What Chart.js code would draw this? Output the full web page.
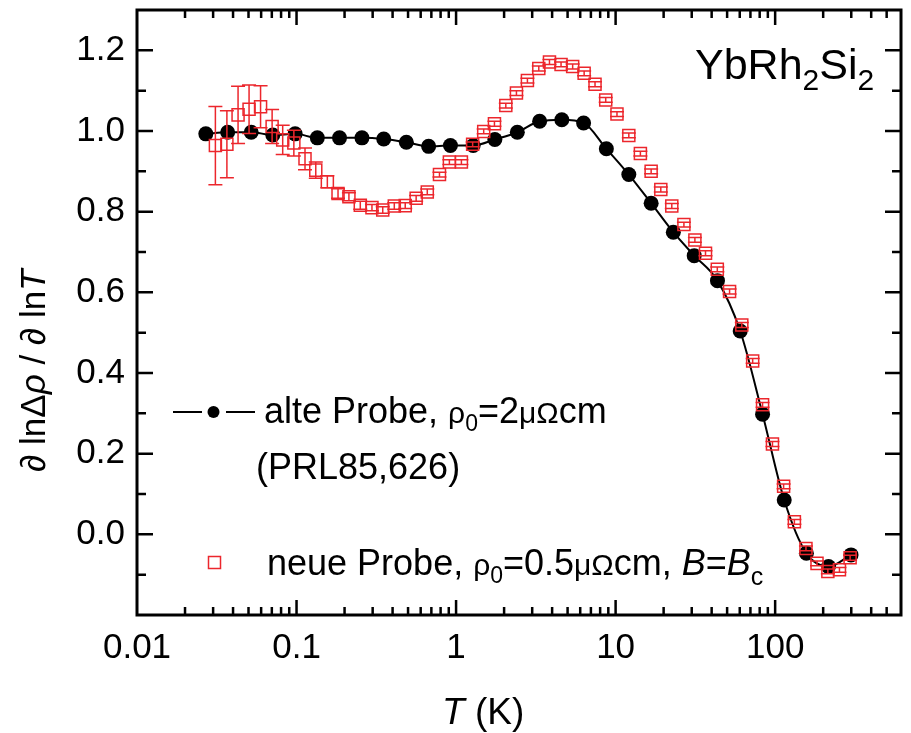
<!DOCTYPE html>
<html>
<head>
<meta charset="utf-8">
<script src="https://cdn.jsdelivr.net/npm/chart.js@4"></script>
<style>
  html, body { margin: 0; padding: 0; background: #fff; }
  #wrap { width: 911px; height: 733px; }
</style>
</head>
<body>
<div id="wrap"><canvas id="rho-chart" width="911" height="733"></canvas></div>
<script>
// alte Probe (PRL85,626)
const oldT = [0.027, 0.037, 0.052, 0.071, 0.098, 0.135, 0.186, 0.257, 0.352, 0.488,
    0.673, 0.922, 1.28, 1.75, 2.42, 3.34, 4.6, 6.3, 8.75, 12.1,
    16.7, 23.0, 31.1, 43.5, 60.4, 83.4, 114, 157, 216, 299];
const oldVal = [0.993, 0.997, 0.997, 0.99, 0.993, 0.983, 0.983, 0.983, 0.98, 0.972,
    0.962, 0.964, 0.964, 0.979, 0.997, 1.024, 1.028, 1.02, 0.956, 0.892,
    0.821, 0.749, 0.691, 0.629, 0.504, 0.298, 0.085, -0.047, -0.08, -0.051];

// neue Probe, B = Bc
const newT = [0.031, 0.0366, 0.043, 0.0504, 0.0595, 0.0703, 0.0819, 0.0962, 0.113, 0.132,
    0.156, 0.182, 0.213, 0.251, 0.297, 0.347, 0.41, 0.48, 0.562, 0.66,
    0.787, 0.908, 1.08, 1.27, 1.49, 1.74, 2.05, 2.39, 2.8, 3.3,
    3.85, 4.55, 5.38, 6.35, 7.43, 8.67, 10.2, 12.1, 14.3, 16.7,
    19.2, 22.5, 26.8, 31.4, 36.6, 43.4, 51.8, 61.8, 72.3, 83.4,
    96.2, 113, 132, 156, 183, 214, 253, 295];
const newVal = [0.964, 0.967, 1.04, 1.054, 1.06, 1.011, 0.978, 0.97, 0.931, 0.903,
    0.874, 0.845, 0.837, 0.816, 0.81, 0.804, 0.814, 0.815, 0.833, 0.849,
    0.892, 0.923, 0.923, 0.967, 0.999, 1.018, 1.063, 1.094, 1.125, 1.155,
    1.171, 1.165, 1.16, 1.143, 1.116, 1.077, 1.042, 0.989, 0.944, 0.9,
    0.855, 0.814, 0.768, 0.73, 0.697, 0.657, 0.602, 0.519, 0.43, 0.321,
    0.224, 0.119, 0.031, -0.035, -0.072, -0.092, -0.088, -0.058];
const newErr = [0.097, 0.083, 0.071, 0.06, 0.052, 0.042, 0.036, 0.032, 0.027, 0.02,
    0.015, 0.012, 0.01, 0.01, 0.008, 0.008, 0.008, 0.007, 0.007, 0.007,
    0.006, 0.006, 0.006, 0.006, 0.006, 0.006, 0.006, 0.006, 0.006, 0.006,
    0.006, 0.006, 0.006, 0.006, 0.006, 0.006, 0.006, 0.006, 0.006, 0.006,
    0.006, 0.006, 0.006, 0.006, 0.006, 0.006, 0.006, 0.006, 0.006, 0.006,
    0.006, 0.006, 0.006, 0.006, 0.006, 0.006, 0.006, 0.006];

const xTickValues = [0.01, 0.1, 1, 10, 100];
const xTickLabels = ["0.01", "0.1", "1", "10", "100"];
const yTickValues = [0, 0.2, 0.4, 0.6, 0.8, 1.0, 1.2];

const RED = "rgb(236,38,44)";
const FONT = "'Liberation Sans', Arial, sans-serif";

Chart.defaults.font.family = FONT;
Chart.defaults.color = "#000";

// draws a row of text pieces, each with its own font and vertical shift
function drawRuns(ctx, x, y, runs, sx) {
    ctx.save();
    ctx.translate(x, y);
    ctx.scale(sx || 1, 1);
    let cx = 0;
    runs.forEach((r) => {
        ctx.font = r.font;
        ctx.fillText(r.t, cx, r.dy || 0);
        cx += ctx.measureText(r.t).width;
    });
    ctx.restore();
}

const f = (size, style) => (style || "") + " " + size + "px " + FONT;

// no extra room for the end labels, the frame must sit at fixed spots
function noPad(s) {
    s.paddingTop = 0;
    s.paddingBottom = 0;
    s.paddingLeft = 0;
    s.paddingRight = 0;
}

// inward ticks on all four sides plus the frame
const frameTicks = {
    id: "frameTicks",
    afterDraw(chart) {
        const { ctx, chartArea: a, scales } = chart;
        const x = scales.x, y = scales.y;
        ctx.save();
        ctx.strokeStyle = "#000";
        ctx.lineWidth = 2.5;
        ctx.beginPath();
        for (let e = -2; e <= 2; e++) {
            for (let m = 1; m <= 9; m++) {
                const px = x.getPixelForValue(m * Math.pow(10, e));
                if (px < a.left + 2 || px > a.right - 2) continue;
                const len = m === 1 ? 15 : 8;
                ctx.moveTo(px, a.bottom); ctx.lineTo(px, a.bottom - len);
                ctx.moveTo(px, a.top); ctx.lineTo(px, a.top + len);
            }
        }
        for (let i = -1; i <= 12; i++) {
            const py = y.getPixelForValue(i / 10);
            const len = i % 2 === 0 ? 16 : 9;
            ctx.moveTo(a.left, py); ctx.lineTo(a.left + len, py);
            ctx.moveTo(a.right, py); ctx.lineTo(a.right - len, py);
        }
        ctx.stroke();
        ctx.lineWidth = 3;
        ctx.strokeRect(a.left, a.top, a.right - a.left, a.bottom - a.top);
        ctx.restore();
    },
};

// vertical error bars of the new sample
const errorBars = {
    id: "errorBars",
    afterDatasetsDraw(chart) {
        const { ctx, scales } = chart;
        ctx.save();
        ctx.strokeStyle = RED;
        ctx.lineWidth = 1.5;
        ctx.beginPath();
        newT.forEach((t, i) => {
            const px = scales.x.getPixelForValue(t);
            const top = scales.y.getPixelForValue(newVal[i] + newErr[i]);
            const bot = scales.y.getPixelForValue(newVal[i] - newErr[i]);
            ctx.moveTo(px, top); ctx.lineTo(px, bot);
            ctx.moveTo(px - 7, top); ctx.lineTo(px + 7, top);
            ctx.moveTo(px - 7, bot); ctx.lineTo(px + 7, bot);
        });
        ctx.stroke();
        ctx.restore();
    },
};

// legend, sample name and axis titles
const labels = {
    id: "labels",
    afterDraw(chart) {
        const ctx = chart.ctx;
        ctx.save();
        ctx.fillStyle = "#000";
        ctx.textBaseline = "alphabetic";

        drawRuns(ctx, 695, 79, [
            { t: "YbRh", font: f(43) },
            { t: "2", font: f(30), dy: 11 },
            { t: "Si", font: f(43) },
            { t: "2", font: f(30), dy: 11 },
        ]);

        // legend row 1
        ctx.strokeStyle = "#000";
        ctx.lineWidth = 2;
        ctx.beginPath();
        ctx.moveTo(173, 412); ctx.lineTo(202, 412);
        ctx.moveTo(226, 412); ctx.lineTo(255, 412);
        ctx.stroke();
        ctx.beginPath();
        ctx.arc(213.5, 412, 6, 0, Math.PI * 2);
        ctx.fill();
        drawRuns(ctx, 264, 423, [
            { t: "alte Probe, ", font: f(36) },
            { t: "ρ", font: f(30) },
            { t: "0", font: f(23), dy: 8 },
            { t: "=2", font: f(36) },
            { t: "μΩ", font: f(30) },
            { t: "cm", font: f(36) },
        ]);
        drawRuns(ctx, 256, 479, [{ t: "(PRL85,626)", font: f(36) }]);

        // legend row 2
        ctx.strokeStyle = RED;
        ctx.lineWidth = 1.5;
        ctx.strokeRect(208.5, 556.5, 12, 12);
        drawRuns(ctx, 267, 575, [
            { t: "neue Probe, ", font: f(36) },
            { t: "ρ", font: f(30) },
            { t: "0", font: f(23), dy: 8 },
            { t: "=0.5", font: f(36) },
            { t: "μΩ", font: f(30) },
            { t: "cm, ", font: f(36) },
            { t: "B", font: f(36, "italic") },
            { t: "=", font: f(36) },
            { t: "B", font: f(36, "italic") },
            { t: "c", font: f(25), dy: 10 },
        ]);

        // x title
        drawRuns(ctx, 442, 724, [
            { t: "T", font: f(37, "italic") },
            { t: " (K)", font: f(37) },
        ]);

        // y title, rotated
        ctx.save();
        ctx.translate(45, 472);
        ctx.rotate(-Math.PI / 2);
        drawRuns(ctx, 0, 0, [
            { t: "∂ ln", font: f(35) },
            { t: "Δ", font: f(35) },
            { t: "ρ", font: f(35, "italic") },
            { t: " / ∂ ln", font: f(35) },
            { t: "T", font: f(35, "italic") },
        ]);
        ctx.restore();
        ctx.restore();
    },
};

function createChart(canvas) {
    return new Chart(canvas, {
        type: "scatter",
        data: {
            datasets: [
                {
                    label: "alte Probe",
                    data: oldT.map((t, i) => ({ x: t, y: oldVal[i] })),
                    showLine: true,
                    borderColor: "#000",
                    borderWidth: 2,
                    cubicInterpolationMode: "monotone",
                    pointRadius: 7.5,
                    pointBorderWidth: 0,
                    pointBackgroundColor: "#000",
                    order: 2,
                },
                {
                    label: "neue Probe",
                    data: newT.map((t, i) => ({ x: t, y: newVal[i] })),
                    showLine: false,
                    pointStyle: "rect",
                    pointRadius: 8.5,
                    pointBorderWidth: 1.5,
                    pointBorderColor: RED,
                    pointBackgroundColor: "rgba(255,255,255,0)",
                    order: 1,
                },
            ],
        },
        options: {
            responsive: false,
            animation: false,
            layout: { padding: { top: 7, right: 2, left: 0, bottom: 0 } },
            plugins: { legend: { display: false }, tooltip: { enabled: false } },
            scales: {
                x: {
                    type: "logarithmic",
                    min: 0.01,
                    max: 615,
                    grid: { display: false, drawTicks: false },
                    border: { display: false },
                    afterBuildTicks: (s) => { s.ticks = xTickValues.map((v) => ({ value: v })); },
                    afterFit: (s) => { s.height = 118; noPad(s); },
                    ticks: {
                        autoSkip: false,
                        maxRotation: 0,
                        padding: 12,
                        font: { size: 35 },
                        callback: (v) => xTickLabels[xTickValues.indexOf(v)],
                    },
                },
                y: {
                    min: -0.2,
                    max: 1.3,
                    grid: { display: false, drawTicks: false },
                    border: { display: false },
                    afterBuildTicks: (s) => { s.ticks = yTickValues.map((v) => ({ value: v })); },
                    afterFit: (s) => { s.width = 137; noPad(s); },
                    ticks: {
                        padding: 12,
                        font: { size: 35 },
                        callback: (v) => v.toFixed(1),
                    },
                },
            },
        },
        plugins: [errorBars, frameTicks, labels],
    });
}

createChart(document.querySelector("#rho-chart"));
</script>
</body>
</html>
